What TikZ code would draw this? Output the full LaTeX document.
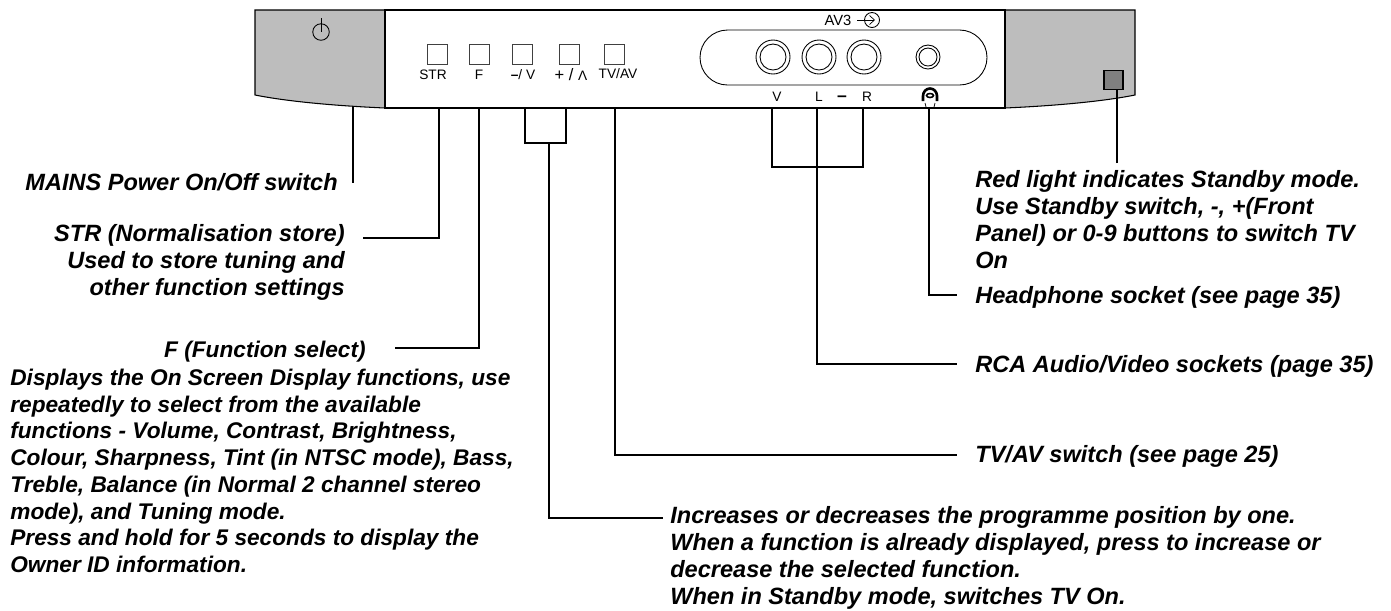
\documentclass[tikz,border=0pt]{standalone}
\usepackage{fontspec}
\setmainfont{Liberation Sans}
\usetikzlibrary{arrows.meta, positioning, calc}
\definecolor{panelgrey}{gray}{0.74}
\definecolor{ledgrey}{gray}{0.5}
\tikzset{
	note/.style={font=\fontsize{13.4}{15.3}\selectfont\bfseries\itshape, inner sep=0pt, anchor=base west, align=left},
	noteright/.style={note, anchor=base east, align=right},
	notesmall/.style={font=\fontsize{12.9}{15.2}\selectfont\bfseries\itshape},
	lead/.style={draw, line width=1.25pt},
	key/.style={draw=black!75, line width=0.5pt, minimum size=4.2mm-0.5pt, inner sep=0pt},
	keylabel/.style={font=\fontsize{7.8}{9}\selectfont, inner sep=0pt},
	jack/.style={draw, circle, line width=0.5pt, inner sep=0pt}
}
\begin{document}
\begin{tikzpicture}[x=0.02cm, y=-0.02cm]
	\useasboundingbox (0,0) rectangle (1391,610);
	% Define important coordinates
	\coordinate (mains_top) at (353,106);
	\coordinate (mains_end) at (353,183);
	\coordinate (led_end) at (1117,163);

	% Grey ends of the panel
	\draw[fill=panelgrey, line width=0.6pt] (255,10) -- (385,10) -- (385,108) .. controls (340,106) and (290,102) .. (255,95) -- cycle;
	\draw[fill=panelgrey, line width=0.6pt] (1135,10) -- (1005,10) -- (1005,108) .. controls (1050,106) and (1100,102) .. (1135,95) -- cycle;
	\draw[line width=1.25pt] (385,10) rectangle (1005,108);

	% Power symbol
	\node[jack, minimum size=16.5*0.02cm] (power) at (321,32) {};
	\draw[line width=0.5pt] (321,18) -- (power.center);

	% Front panel keys
	\node[key] (str) at (437,54.5) {};
	\node[key] (fn) at (479.5,54.5) {};
	\node[key] (minus) at (522.5,54.5) {};
	\node[key] (plus) at (569.5,54.5) {};
	\node[key] (tvav) at (614.5,54.5) {};
	\node[keylabel] (strlabel) at (433,75) {STR};
	\node[keylabel] (fnlabel) at (479,75) {F};
	\node[keylabel] (minuslabel) at (523,75) {\textbf{--}/ V};
	\node[keylabel, font=\fontsize{9.4}{9}\selectfont] (pluslabel) at (571,75) {+ / \fontsize{7.8}{9}\selectfont Λ};
	\node[keylabel] (tvavlabel) at (618,74) {TV/AV};

	% AV3 sockets
	\draw[line width=0.5pt] (727.5,30) -- (959.5,30) arc[start angle=90, end angle=-90, radius=0.55cm] -- (727.5,85) arc[start angle=270, end angle=90, radius=0.55cm] -- cycle;
	\foreach \name/\x in {vjack/773, ljack/819, rjack/864} {
		\node[jack, minimum size=34*0.02cm] (\name) at (\x,57) {};
		\node[jack, minimum size=26*0.02cm] at (\x,57) {};
	}
	\node[jack, minimum size=24*0.02cm] (phones) at (928,57) {};
	\node[jack, minimum size=18*0.02cm] at (928,57) {};
	\node[font=\fontsize{8.4}{9}\selectfont, inner sep=0pt] (avlabel) at (838,20) {AV3};
	\node[jack, minimum size=15*0.02cm] (avin) at (872,20) {};
	\draw[-{Straight Barb[length=1mm, width=1.8mm]}, line width=0.4pt] (857,20) -- (875,20);
	\node[keylabel] (vlabel) at (777,97) {V};
	\node[keylabel] (llabel) at (819,97) {L};
	\node[keylabel, font=\fontsize{10}{9}\selectfont\bfseries] (dashlabel) at (842,99) {--};
	\node[keylabel] (rlabel) at (867,97) {R};

	% Headphone mark
	\draw[line width=1.5pt] (923,101) -- (923,96) arc[start angle=180, end angle=0, x radius=0.14cm, y radius=0.15cm] -- (937,101);
	\draw[line width=0.9pt] (930,95.5) ellipse[x radius=0.07cm, y radius=0.04cm];
	\draw[line width=0.4pt] (925,103) -- (926,107) (935,103) -- (934,107);

	% Standby light
	\node[draw, fill=ledgrey, line width=0.7pt, minimum size=19*0.02cm, inner sep=0pt] (led) at (1113.5,80) {};

	% Notes
	\node[noteright] (mainsnote) at (338,190.5) {MAINS Power On/Off switch};
	\node[noteright] (strnote) at (345,295) {STR (Normalisation store)\\Used to store tuning and\\other function settings};
	\node[noteright, notesmall] (fnnote) at (366,357) {F (Function select)};
	\node[note, notesmall] (fnbody) at (10,572.5) {Displays the On Screen Display functions, use\\repeatedly to select from the available\\functions - Volume, Contrast, Brightness,\\Colour, Sharpness, Tint (in NTSC mode), Bass,\\Treble, Balance (in Normal 2 channel stereo\\mode), and Tuning mode.\\Press and hold for 5 seconds to display the\\Owner ID information.};
	\node[note] (lednote) at (975,268) {Red light indicates Standby mode.\\Use Standby switch, -, +(Front\\Panel) or 0-9 buttons to switch TV\\On};
	\node[note] (phonesnote) at (975,303) {Headphone socket (see page 35)};
	\node[note] (rcanote) at (975,372) {RCA Audio/Video sockets (page 35)};
	\node[note] (tvavnote) at (975,462) {TV/AV switch (see page 25)};
	\node[note] (prognote) at (670,604.5) {Increases or decreases the programme position by one.\\When a function is already displayed, press to increase or\\decrease the selected function.\\When in Standby mode, switches TV On.};

	% Leader lines
	\coordinate (strbend) at (439,238);
	\coordinate (fnbend) at (479,348);
	\coordinate (bracketl) at (525,143);
	\coordinate (bracketr) at (566,143);
	\draw[lead] (mains_top) -- (mains_end);
	\draw[lead] (439,108) -- (strbend) -- (363,238);
	\draw[lead] (479,108) -- (fnbend) -- (395,348);
	\draw[lead] (525,108) -- (bracketl) -- (bracketr) -- (566,108);
	\draw[lead] (549,143) -- (549,518) -- (663,518);
	\draw[lead] (615,108) -- (615,455) -- (957,455);
	\draw[lead] (772,108) -- (772,167) -- (863,167) -- (863,108);
	\draw[lead] (817,108) -- (817,364) -- (957,364);
	\draw[lead] (929,108) -- (929,295) -- (957,295);
	\draw[lead] (led_end) -- (1117,90);
\end{tikzpicture}
\end{document}
